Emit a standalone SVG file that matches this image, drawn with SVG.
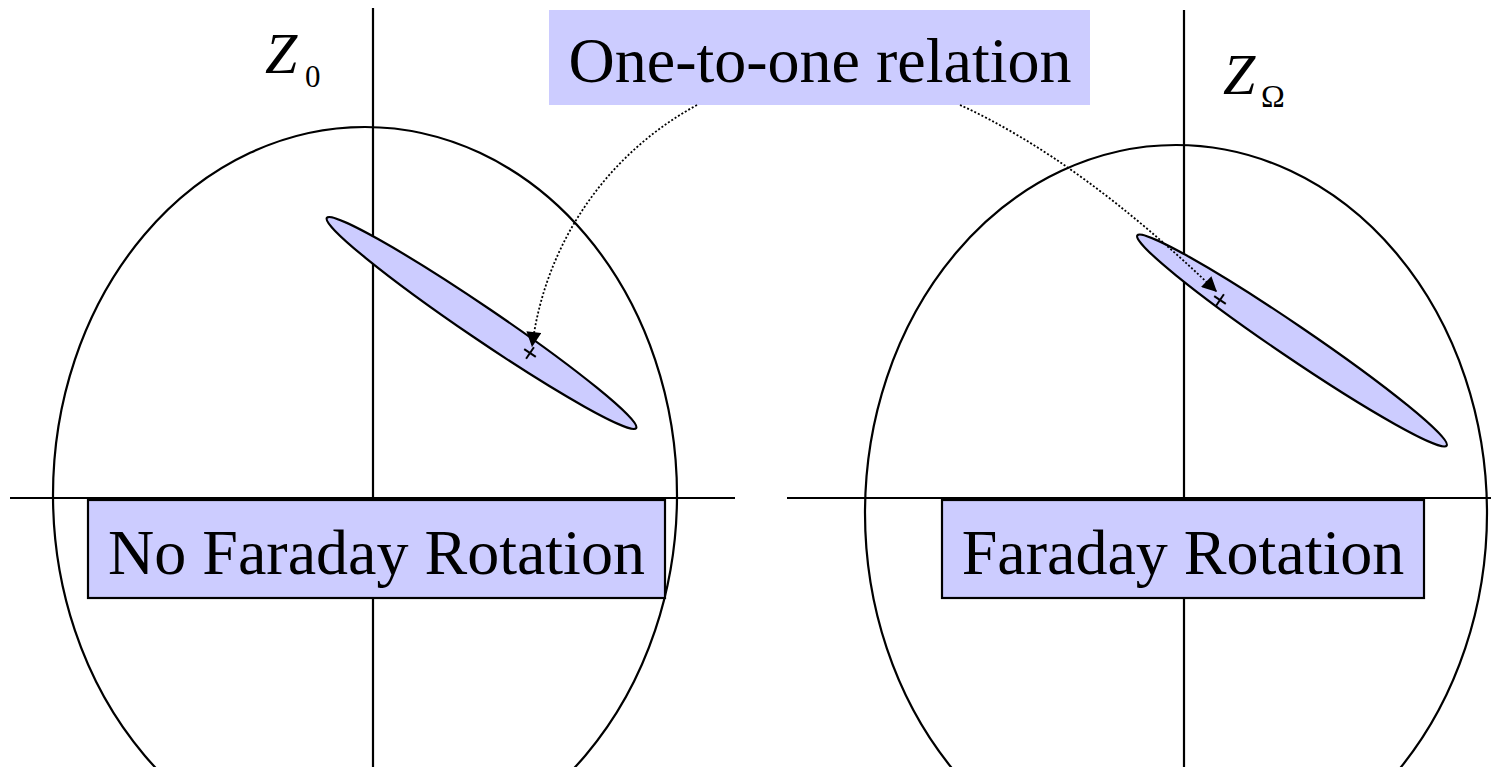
<svg xmlns="http://www.w3.org/2000/svg" width="1491" height="767" viewBox="0 0 1491 767">
<defs>
<style>
.ln{stroke:#000;stroke-width:2.2;fill:none}
.big{stroke:#000;stroke-width:2.2;fill:none}
.pol{stroke:#000;stroke-width:2.2;fill:#ccccff}
.box{stroke:#000;stroke-width:2.2;fill:#ccccff}
.lbl{font-family:"Liberation Serif","Times New Roman",serif;font-size:64px;fill:#000;text-anchor:middle}
.z{font-family:"Liberation Serif","Times New Roman",serif;fill:#000}
.dot{stroke:#000;stroke-width:1.8;fill:none;stroke-dasharray:2,2}
.cr{stroke:#000;stroke-width:2}
</style>
<marker id="ah" viewBox="0 0 10 10" refX="10" refY="5" markerWidth="18" markerHeight="15" markerUnits="userSpaceOnUse" orient="auto">
<path d="M0,0 L10,5 L0,10 z" fill="#000"/>
</marker>
</defs>
<rect width="1491" height="767" fill="#fff"/>

<g id="left-plane">
<ellipse class="big" cx="365" cy="495" rx="312" ry="368"/>
<line class="ln" x1="10" y1="498" x2="735" y2="498"/>
<line class="ln" x1="373" y1="8" x2="373" y2="767"/>
<ellipse class="pol" cx="481.5" cy="323" rx="187" ry="16" transform="rotate(34.2 481.5 323)"/>
<g transform="translate(530 353) rotate(34)"><line class="cr" x1="-7" y1="0" x2="7" y2="0"/><line class="cr" x1="0" y1="-7" x2="0" y2="7"/></g>
<text class="z" x="265" y="73" font-size="58" font-style="italic">Z</text>
<text class="z" x="305" y="87" font-size="31">0</text>
</g>

<g id="right-plane">
<ellipse class="big" cx="1176" cy="513" rx="311" ry="368"/>
<line class="ln" x1="787" y1="498" x2="1491" y2="498"/>
<line class="ln" x1="1184" y1="10" x2="1184" y2="767"/>
<ellipse class="pol" cx="1292" cy="340.5" rx="187" ry="16" transform="rotate(34.2 1292 340.5)"/>
<g transform="translate(1220 300) rotate(34)"><line class="cr" x1="-7" y1="0" x2="7" y2="0"/><line class="cr" x1="0" y1="-7" x2="0" y2="7"/></g>
<text class="z" x="1223" y="94" font-size="58" font-style="italic">Z</text>
<text class="z" x="1261" y="107" font-size="32">Ω</text>
</g>

<g id="label-no-faraday">
<rect class="box" x="88" y="500" width="577" height="98"/>
<text class="lbl" x="376.5" y="574">No Faraday Rotation</text>
</g>

<g id="label-faraday">
<rect class="box" x="942" y="500" width="482" height="98"/>
<text class="lbl" x="1183" y="574">Faraday Rotation</text>
</g>

<g id="label-relation">
<rect x="549" y="10" width="541" height="95" fill="#ccccff"/>
<text class="lbl" x="820" y="82">One-to-one relation</text>
</g>

<g id="connectors">
<path class="dot" d="M697,105 A320,320 0 0 0 532,347" marker-end="url(#ah)"/>
<path class="dot" d="M960,105 Q1080,160 1217,292" marker-end="url(#ah)"/>
</g>
</svg>
